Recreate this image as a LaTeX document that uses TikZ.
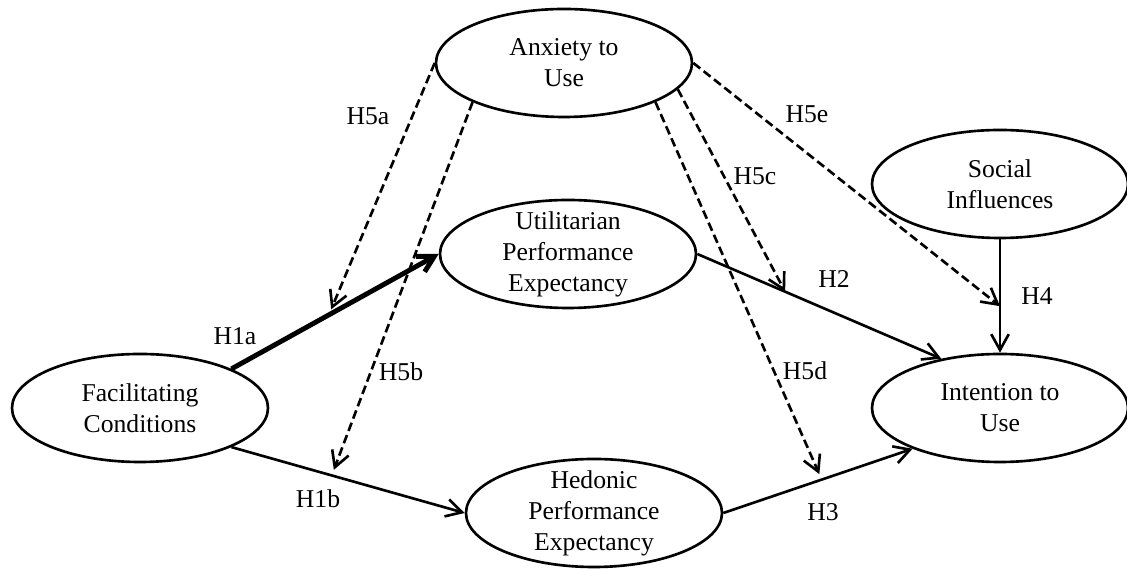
\documentclass[tikz,border=0pt]{standalone}
\usepackage{fontspec}
\setmainfont{Liberation Serif}
\usetikzlibrary{shapes.geometric, arrows.meta, positioning}
\tikzset{
  latent/.style={ellipse, draw=black, line width=1.5pt,
                 minimum width=5.12cm, minimum height=2.16cm,
                 align=center, inner xsep=0pt, inner ysep=-4pt},
  arrow/.style={-{Straight Barb[length=9pt, width=10pt]}, line width=1.5pt},
  boldarrow/.style={arrow, line width=2.8pt},
  dasharrow/.style={arrow, dash pattern=on 5pt off 2.5pt},
  hyp/.style={inner sep=0pt},
}
\begin{document}
\begin{tikzpicture}[on grid, font=\fontsize{14.6}{17.6}\selectfont]
\useasboundingbox (0,0) rectangle (22.54,11.38);

% ── constructs ────────────────────────────────────────────────────────────────
\node[latent] (fc) at (2.80,3.22) {Facilitating\\Conditions};
\node[latent, above right=3.08cm and 8.56cm of fc] (upe)
  {Utilitarian\\Performance\\Expectancy};
\node[latent, below right=2.10cm and 9.08cm of fc] (hpe)
  {Hedonic\\Performance\\Expectancy};
\node[latent, above left=3.82cm and 0.08cm of upe] (ai) {Anxiety to\\Use};
\node[latent, right=17.2cm of fc] (iu) {Intention to\\Use};
\node[latent, above=4.48cm of iu] (si) {Social\\Influences};

% ── direct paths ──────────────────────────────────────────────────────────────
\draw[boldarrow] (fc.north east) -- coordinate[pos=0.47] (t1a) (upe.west);
\draw[arrow] (fc.south east) -- coordinate[pos=0.43] (t1b) (hpe.west);
\draw[arrow] (upe.east) -- coordinate[pos=0.36] (t2) (iu.140);
\draw[arrow] (hpe.east) -- coordinate[pos=0.52] (t3) (iu.205);
\draw[arrow] (si.south) -- coordinate[pos=0.59] (t4) (iu.north);

% ── moderating paths (anxiety) ────────────────────────────────────────────────
\draw[dasharrow, shorten >=0.12cm] (ai.west) -- (t1a);
\draw[dasharrow, shorten >=0.12cm] (ai.south west) -- (t1b);
\draw[dasharrow] (ai.347) -- (t2);
\draw[dasharrow, shorten >=0.12cm] (ai.south east) -- (t3);
\draw[dasharrow] (ai.east) -- (t4);

% ── hypothesis labels ─────────────────────────────────────────────────────────
\node[hyp] (h1a) at (4.70,4.66) {H1a};
\node[hyp] (h1b) at (6.36,1.40) {H1b};
\node[hyp] (h2)  at (16.68,5.80) {H2};
\node[hyp] (h3)  at (16.46,1.14) {H3};
\node[hyp] (h4)  at (20.74,5.46) {H4};
\node[hyp] (h5a) at (7.36,9.06) {H5a};
\node[hyp] (h5b) at (8.02,3.94) {H5b};
\node[hyp] (h5c) at (15.10,7.86) {H5c};
\node[hyp] (h5d) at (16.10,3.96) {H5d};
\node[hyp] (h5e) at (16.14,9.10) {H5e};

\end{tikzpicture}
\end{document}
